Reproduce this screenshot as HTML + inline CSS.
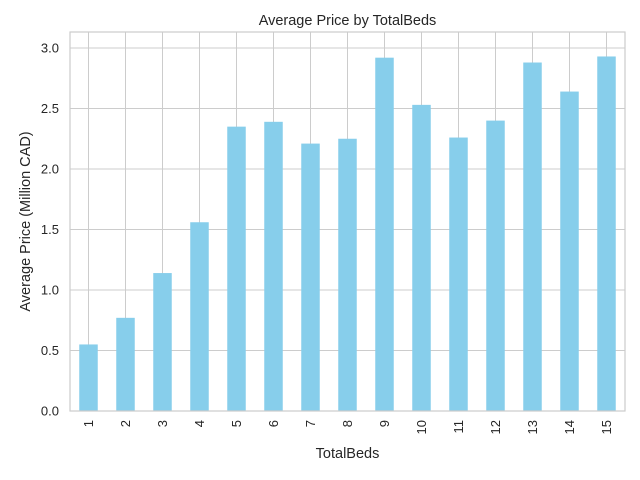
<!DOCTYPE html>
<html><head><meta charset="utf-8"><style>
body{margin:0;background:#fff;}
svg{display:block;font-family:"Liberation Sans","DejaVu Sans",sans-serif;}
</style></head><body>
<svg id="chart" width="640" height="480" xmlns="http://www.w3.org/2000/svg"></svg>
<script>
const categories = ["1","2","3","4","5","6","7","8","9","10","11","12","13","14","15"];
const values = [0.55,0.77,1.14,1.56,2.35,2.39,2.21,2.25,2.92,2.53,2.26,2.40,2.88,2.64,2.93];
const yTicks = [0,0.5,1.0,1.5,2.0,2.5,3.0];
const yTickLabels = ["0.0","0.5","1.0","1.5","2.0","2.5","3.0"];

const svg = document.getElementById('chart');
const NS = 'http://www.w3.org/2000/svg';
const L=70, R=625, T=32, B=411;
const yMax = 3.0, yPxTop = 48;
const y = v => B - v*(B - yPxTop)/yMax;
const step = (R-L)/categories.length;
const x = i => L + step*(i+0.5);
function mk(tag, attrs){const e=document.createElementNS(NS,tag);for(const k in attrs)e.setAttribute(k,attrs[k]);svg.appendChild(e);return e;}

yTicks.forEach((t,i)=>{
  const g=mk('line',{x1:L,x2:R,y1:y(t),y2:y(t),stroke:'#cccccc','stroke-width':1});
  
  
  const tx=mk('text',{x:L-11,y:y(t)+4.5,'text-anchor':'end','font-size':13,fill:'#262626'});
  tx.textContent=yTickLabels[i];
  
  
});
categories.forEach((c,i)=>{
  const g=mk('line',{x1:x(i),x2:x(i),y1:T,y2:B,stroke:'#cccccc','stroke-width':1});
  
  
});
categories.forEach((c,i)=>{
  const w=step*0.5;
  const r=mk('rect',{x:x(i)-w/2,y:y(values[i]),width:w,height:B-y(values[i]),fill:'#87ceeb'});
  
  
  const tx=mk('text',{x:0,y:0,'text-anchor':'end','font-size':13,fill:'#262626',transform:`translate(${x(i)+4.5},${B+9}) rotate(-90)`});
  tx.textContent=c;
  
  
});
const fr=mk('rect',{x:L,y:T,width:R-L,height:B-T,fill:'none',stroke:'#cccccc','stroke-width':1.2});


const title=mk('text',{x:(L+R)/2,y:25,'text-anchor':'middle','font-size':14.5,fill:'#262626'});
title.textContent='Average Price by TotalBeds';


const xt=mk('text',{x:(L+R)/2,y:458,'text-anchor':'middle','font-size':14.5,fill:'#262626'});
xt.textContent='TotalBeds';


const yt=mk('text',{x:0,y:0,'text-anchor':'middle','font-size':14.5,fill:'#262626',transform:`translate(30,${(T+B)/2}) rotate(-90)`});
yt.textContent='Average Price (Million CAD)';


</script>
</body></html>
